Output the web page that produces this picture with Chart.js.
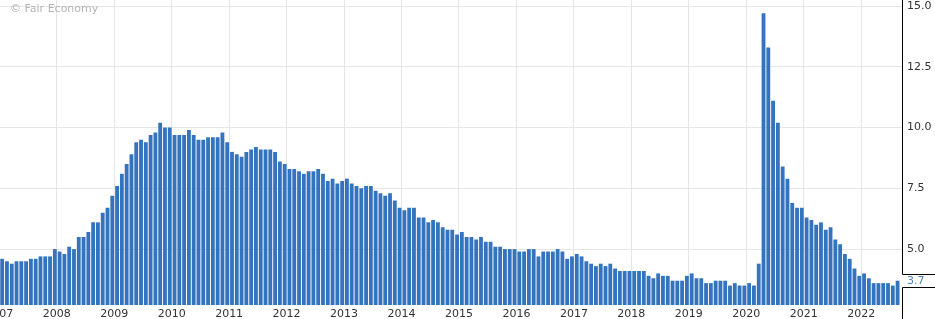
<!DOCTYPE html>
<html>
<head>
<meta charset="utf-8">
<script src="https://cdn.jsdelivr.net/npm/chart.js@4/dist/chart.umd.min.js"></script>
<style>
  html, body { margin: 0; padding: 0; background: #fff; }
  #grafico { display: block; }
</style>
</head>
<body>
<canvas id="grafico" width="935" height="319"></canvas>
<script>
// first-release monthly values, Jan 2007 .. Aug 2022
const years = [2007, 2008, 2009, 2010, 2011, 2012, 2013, 2014, 2015, 2016, 2017, 2018, 2019, 2020, 2021, 2022];
const rates = [
  4.6, 4.5, 4.4, 4.5, 4.5, 4.5, 4.6, 4.6, 4.7, 4.7, 4.7, 5.0,
  4.9, 4.8, 5.1, 5.0, 5.5, 5.5, 5.7, 6.1, 6.1, 6.5, 6.7, 7.2,
  7.6, 8.1, 8.5, 8.9, 9.4, 9.5, 9.4, 9.7, 9.8, 10.2, 10.0, 10.0,
  9.7, 9.7, 9.7, 9.9, 9.7, 9.5, 9.5, 9.6, 9.6, 9.6, 9.8, 9.4,
  9.0, 8.9, 8.8, 9.0, 9.1, 9.2, 9.1, 9.1, 9.1, 9.0, 8.6, 8.5,
  8.3, 8.3, 8.2, 8.1, 8.2, 8.2, 8.3, 8.1, 7.8, 7.9, 7.7, 7.8,
  7.9, 7.7, 7.6, 7.5, 7.6, 7.6, 7.4, 7.3, 7.2, 7.3, 7.0, 6.7,
  6.6, 6.7, 6.7, 6.3, 6.3, 6.1, 6.2, 6.1, 5.9, 5.8, 5.8, 5.6,
  5.7, 5.5, 5.5, 5.4, 5.5, 5.3, 5.3, 5.1, 5.1, 5.0, 5.0, 5.0,
  4.9, 4.9, 5.0, 5.0, 4.7, 4.9, 4.9, 4.9, 5.0, 4.9, 4.6, 4.7,
  4.8, 4.7, 4.5, 4.4, 4.3, 4.4, 4.3, 4.4, 4.2, 4.1, 4.1, 4.1,
  4.1, 4.1, 4.1, 3.9, 3.8, 4.0, 3.9, 3.9, 3.7, 3.7, 3.7, 3.9,
  4.0, 3.8, 3.8, 3.6, 3.6, 3.7, 3.7, 3.7, 3.5, 3.6, 3.5, 3.5,
  3.6, 3.5, 4.4, 14.7, 13.3, 11.1, 10.2, 8.4, 7.9, 6.9, 6.7, 6.7,
  6.3, 6.2, 6.0, 6.1, 5.8, 5.9, 5.4, 5.2, 4.8, 4.6, 4.2, 3.9,
  4.0, 3.8, 3.6, 3.6, 3.6, 3.6, 3.5, 3.7
];
const yTicks = [5.0, 7.5, 10.0, 12.5, 15.0];

// bars sit a little after the start of their month on the months axis
const barOffset = 0.6;
const fuente = "'DejaVu Sans', Verdana, sans-serif";
const colorBarra = "#3474be";
const colorGrid = "#e6e6e6";

const puntos = rates.map((v, i) => ({ x: i + barOffset, y: v }));

const marcoPlugin = {
  id: "marco",
  afterDraw(chart) {
    const ctx = chart.ctx;
    const area = chart.chartArea;
    const yScale = chart.scales.y;
    const ultimo = rates[rates.length - 1];
    const yv = yScale.getPixelForValue(ultimo);
    const xa = Math.round(area.right) - 0.5;
    const top = Math.round(yv - 6) - 0.5;
    const bottom = Math.round(yv + 6) + 0.5;

    ctx.save();
    ctx.strokeStyle = "#000";
    ctx.lineWidth = 1;
    ctx.beginPath();
    ctx.moveTo(xa, 0);
    ctx.lineTo(xa, top);
    ctx.lineTo(chart.width, top);
    ctx.moveTo(chart.width, bottom);
    ctx.lineTo(xa, bottom);
    ctx.lineTo(xa, chart.height);
    ctx.stroke();

    ctx.font = "11px " + fuente;
    ctx.textBaseline = "middle";
    ctx.textAlign = "left";
    ctx.fillStyle = "#4f81bd";
    ctx.fillText(ultimo.toFixed(1), xa + 4.5, yv + 0.5);

    // watermark
    ctx.fillStyle = "#b4b4b4";
    ctx.fillText("\u00A9 Fair Economy", 10, 9);
    ctx.restore();
  }
};

new Chart(document.getElementById("grafico"), {
  type: "bar",
  data: {
    datasets: [{
      data: puntos,
      backgroundColor: colorBarra,
      borderWidth: 0,
      barPercentage: 0.8,
      categoryPercentage: 1
    }]
  },
  options: {
    responsive: false,
    animation: false,
    devicePixelRatio: 1,
    layout: { padding: 0 },
    plugins: {
      legend: { display: false },
      tooltip: { enabled: false }
    },
    scales: {
      x: {
        type: "linear",
        min: 0.15,
        max: 188.73,
        offset: false,
        grid: { color: colorGrid, drawTicks: false, offset: false },
        border: { display: false },
        ticks: {
          autoSkip: false,
          maxRotation: 0,
          padding: 3,
          color: "#333",
          font: { family: fuente, size: 11 },
          callback: (value, index) => years[index]
        },
        afterBuildTicks: axis => {
          axis.ticks = years.map((y, i) => ({ value: i * 12 }));
        },
        afterFit: axis => {
          axis.height = 14;
          axis.paddingLeft = 0;
          axis.paddingRight = 0;
        }
      },
      y: {
        position: "right",
        min: 2.7,
        max: 15.25,
        grid: { color: colorGrid, drawTicks: false },
        border: { display: false },
        ticks: {
          padding: 4,
          color: "#333",
          font: { family: fuente, size: 11 },
          callback: value => Number(value).toFixed(1)
        },
        afterBuildTicks: axis => {
          axis.ticks = yTicks.map(v => ({ value: v }));
        },
        afterFit: axis => {
          axis.width = 32;
          axis.paddingTop = 0;
          axis.paddingBottom = 0;
        }
      }
    }
  },
  plugins: [marcoPlugin]
});
</script>
</body>
</html>
